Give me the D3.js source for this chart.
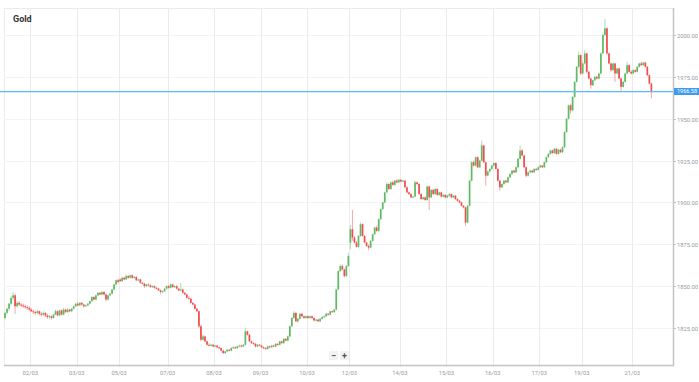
<!DOCTYPE html>
<html>
<head>
<meta charset="utf-8">
<script src="https://cdn.jsdelivr.net/npm/d3@7"></script>
<style>
  body { margin: 0; background: #fff; }
  svg { display: block; font-family: Roboto, "Open Sans", sans-serif; }
</style>
</head>
<body>
<svg id="chart" width="699" height="382"></svg>
<script>
// hourly candles, [open, high, low, close], grouped by trading day
const mar01 = [
  [1831,1834.5,1830,1834],[1834,1837,1833,1836.5],[1836.5,1840,1835,1839.5],[1839.5,1844,1838.5,1843],
  [1843,1846.5,1841.5,1844.5],[1844.5,1845.5,1833.5,1838],[1838,1841,1837,1840],[1840,1841,1838,1839],
  [1839,1840,1837.5,1838.5],[1838.5,1839.5,1837,1838],[1838,1839,1836.5,1837.5],[1837.5,1838.5,1836,1837],
  [1837,1838,1835,1836]
];
const mar02 = [
  [1836,1837,1834.5,1835],[1835,1836,1833.5,1834.5],[1834.5,1835.5,1833,1834],[1834,1836,1833,1835],
  [1835,1835.5,1832.5,1833.5],[1833.5,1834.5,1832,1833],[1833,1835,1832,1834],[1834,1834.5,1831.5,1832.5],
  [1832.5,1833.5,1830.5,1831.5],[1831.5,1833,1830.5,1832],[1832,1832.5,1830,1831],[1831,1833.5,1830.5,1833],
  [1833,1836,1832.5,1835],[1835,1835.5,1832,1832.5],[1832.5,1836,1832,1835.5],[1835.5,1836,1832.5,1833],
  [1833,1837,1832.5,1836],[1836,1836.5,1834,1834.5],[1834.5,1837,1834,1836],[1836,1836.5,1834.5,1835],
  [1835,1837,1834.5,1836.5],[1836.5,1838.5,1836,1838],[1838,1840,1837.5,1839.5]
];
const mar03 = [
  [1839.5,1840.5,1838,1838.5],[1838.5,1840.5,1838,1840],[1840,1840.5,1838.5,1839],[1839,1839.5,1837,1838],
  [1838,1839,1837.5,1838.5],[1838.5,1840,1838,1839.5],[1839.5,1841.5,1839,1841],[1841,1844,1840.5,1843.5],
  [1843.5,1844,1841.5,1842],[1842,1845,1841.5,1844.5],[1844.5,1846.5,1844,1846],[1846,1846.5,1844.5,1845],
  [1845,1847,1844.5,1846.5],[1846.5,1847,1844.5,1845],[1845,1845.5,1841,1842],[1842,1845,1841.5,1844.5],
  [1844.5,1846,1844,1845.5],[1845.5,1848.5,1845,1848],[1848,1851.5,1847.5,1851],[1851,1854,1850.5,1853.5],
  [1853.5,1854.5,1851.5,1852.5]
];
const mar05 = [
  [1854,1854.5,1852.5,1853]
];
const mar06 = [
  [1853,1855.5,1852.5,1855],[1855,1855.5,1853.5,1854],[1854,1857,1853.5,1856],[1856,1856.5,1854.5,1855],
  [1855,1857,1854.5,1856.5],[1856.5,1857,1854.5,1855],[1855,1856,1854.5,1855.5],[1855.5,1856,1853,1853.5],
  [1853.5,1854.5,1853,1854],[1854,1854.5,1851.5,1852],[1852,1852.5,1851,1851.5],[1851.5,1852,1849,1850],
  [1850,1851.5,1849.5,1851],[1851,1851.5,1850,1850.5],[1850.5,1851,1849,1849.5],[1849.5,1850.5,1849,1850],
  [1850,1850.5,1848.5,1849],[1849,1849.5,1848,1848.5],[1848.5,1849,1847,1847.5],[1847.5,1848,1845.5,1846.5],
  [1846.5,1847.5,1846,1847],[1847,1849,1846.5,1848.5],[1848.5,1850.5,1848,1850]
];
const mar07 = [
  [1850,1850.5,1848.5,1849],[1849,1851.5,1848.5,1851],[1851,1851.5,1849,1849.5],[1849.5,1850.5,1849,1850],
  [1850,1850.5,1848,1848.5],[1848.5,1849,1847,1847.5],[1847.5,1852,1847,1848],[1848,1848.5,1845.5,1846],
  [1846,1846.5,1844.5,1845],[1845,1845.5,1842.5,1843],[1843,1844,1842,1842.5],[1842.5,1843,1839.5,1840],
  [1840,1840.5,1838.5,1839],[1839,1839.5,1836,1836.5],[1836.5,1837,1834.5,1835],[1835,1835.5,1825,1826],
  [1826,1827,1817,1818],[1818,1821,1817.5,1820],[1820,1820.5,1816.5,1817],[1817,1817.5,1814.5,1815],
  [1815,1816,1814,1814.5],[1814.5,1815.5,1814,1815],[1815,1815.5,1813.5,1814]
];
const mar08 = [
  [1814,1815,1813.5,1814.5],[1814.5,1815,1813,1813.5],[1813.5,1814,1812.5,1813],[1813,1813.5,1811,1811.5],
  [1811.5,1812,1809.5,1810],[1810,1811.5,1809.5,1811],[1811,1812.5,1810.5,1812],[1812,1812.5,1811,1811.5],
  [1811.5,1813.5,1811,1813],[1813,1814,1812.5,1813.5],[1813.5,1814,1812.5,1813],[1813,1814.5,1812.5,1814],
  [1814,1815,1813.5,1814.5],[1814.5,1815,1813.5,1814],[1814,1815.5,1813.5,1815],[1815,1825,1814.5,1823],
  [1823,1823.5,1820.5,1821],[1821,1821.5,1816.5,1817],[1817,1817.5,1815.5,1816],[1816,1816.5,1815,1815.5],
  [1815.5,1816,1813.5,1814],[1814,1815.5,1813.5,1815],[1815,1815.5,1814,1814.5]
];
const mar09 = [
  [1814.5,1815,1813,1813.5],[1813.5,1814,1812.5,1813],[1813,1813.5,1812,1812.5],[1812.5,1814.5,1812,1814],
  [1814,1814.5,1813,1813.5],[1813.5,1815,1813,1814.5],[1814.5,1815,1813.5,1814],[1814,1816,1813.5,1815.5],
  [1815.5,1816,1814.5,1815],[1815,1817.5,1814.5,1817],[1817,1817.5,1815.5,1816],[1816,1819,1815.5,1818.5],
  [1818.5,1819,1817,1817.5],[1817.5,1820.5,1817,1820],[1820,1826.5,1819.5,1826],[1826,1831.5,1825.5,1831],
  [1831,1835,1830.5,1834],[1834,1834.5,1828.5,1829],[1829,1831,1828,1830.5],[1830.5,1834,1830,1833.5],
  [1833.5,1834,1831.5,1832],[1832,1832.5,1830.5,1831],[1831,1832.5,1830.5,1832]
];
const mar10 = [
  [1832,1832.5,1830.5,1831],[1831,1832.5,1830.5,1832],[1832,1832.5,1830.5,1831],[1831,1831.5,1829,1829.5],
  [1829.5,1830.5,1829,1830],[1830,1830.5,1828.5,1829],[1829,1831,1828.5,1830.5],[1830.5,1832,1830,1831.5],
  [1831.5,1832.5,1831,1832],[1832,1834,1831.5,1833.5],[1833.5,1834,1832.5,1833],[1833,1835.5,1832.5,1835],
  [1835,1835.5,1834,1834.5],[1834.5,1836.5,1834,1836],[1836,1848.5,1835.5,1848],[1848,1859.5,1847.5,1859],
  [1859,1863,1858.5,1862],[1862,1863,1859.5,1860],[1860,1860.5,1855,1856],[1856,1862.5,1855.5,1862],
  [1862,1870,1861.5,1868]
];
const mar12 = [
  [1876,1886.5,1872,1884],[1884,1895.5,1877,1879]
];
const mar13 = [
  [1879,1880,1875.5,1876],[1876,1877,1873,1873.5],[1873.5,1880.5,1873,1880],[1880,1888,1879.5,1887],
  [1887,1887.5,1879.5,1880],[1880,1880.5,1875.5,1876],[1876,1876.5,1873.5,1874],[1874,1875,1871.5,1873],
  [1873,1877.5,1872.5,1877],[1877,1881.5,1876.5,1881],[1881,1885.5,1880.5,1885],[1885,1886,1882.5,1883],
  [1883,1890.5,1882.5,1890],[1890,1896.5,1889.5,1896],[1896,1900.5,1895.5,1900],[1900,1906.5,1899.5,1906],
  [1906,1912,1905.5,1911],[1911,1911.5,1907.5,1908],[1908,1912.5,1907.5,1912],[1912,1913,1910,1910.5],
  [1910.5,1913.5,1910,1913],[1913,1914,1911.5,1912],[1912,1914,1911.5,1913.5]
];
const mar14 = [
  [1913.5,1914,1912,1912.5],[1912.5,1913.5,1912,1913],[1913,1913.5,1908.5,1909],[1909,1909.5,1905.5,1906],
  [1906,1906.5,1904.5,1905],[1905,1905.5,1902.5,1903],[1903,1904,1902.5,1903.5],[1903.5,1913,1903,1912],
  [1912,1912.5,1910.5,1911],[1911,1911.5,1904.5,1905],[1905,1905.5,1901.5,1902],[1902,1903.5,1901.5,1903],
  [1903,1903.5,1901,1901.5],[1901.5,1910,1901,1909.5],[1909.5,1910,1895.5,1903],[1903,1908,1902.5,1907.5],
  [1907.5,1908,1904.5,1905],[1905,1908.5,1904.5,1908],[1908,1908.5,1904,1904.5],[1904.5,1906.5,1904,1906],
  [1906,1906.5,1903,1903.5],[1903.5,1905,1903,1904.5],[1904.5,1905,1902.5,1903]
];
const mar15 = [
  [1903,1904.5,1902.5,1904],[1904,1905.5,1903.5,1905],[1905,1905.5,1902.5,1903],[1903,1904.5,1902.5,1904],
  [1904,1904.5,1901.5,1902],[1902,1902.5,1900.5,1901],[1901,1901.5,1899.5,1900],[1900,1900.5,1897.5,1898],
  [1898,1898.5,1896.5,1897],[1897,1897.5,1886,1888],[1888,1898.5,1887.5,1898],[1898,1913.5,1897.5,1913],
  [1913,1924.5,1912.5,1924],[1924,1925,1921.5,1922],[1922,1927.5,1921.5,1927],[1927,1927.5,1920.5,1921],
  [1921,1925.5,1920.5,1925],[1925,1937,1924.5,1934],[1934,1934.5,1923.5,1924],[1924,1924.5,1910,1916],
  [1916,1919,1915.5,1918.5],[1918.5,1920.5,1918,1920],[1920,1922.5,1919.5,1922]
];
const mar16 = [
  [1922,1924,1921.5,1923.5],[1923.5,1924,1919.5,1920],[1920,1920.5,1912.5,1913],[1913,1913.5,1907,1909],
  [1909,1911.5,1908.5,1911],[1911,1913.5,1910.5,1913],[1913,1913.5,1911.5,1912],[1912,1915.5,1911.5,1915],
  [1915,1917.5,1914.5,1917],[1917,1919.5,1916.5,1919],[1919,1919.5,1917.5,1918],[1918,1921.5,1917.5,1921],
  [1921,1926.5,1920.5,1926],[1926,1934,1925.5,1931],[1931,1932,1927.5,1928],[1928,1928.5,1920.5,1921],
  [1921,1921.5,1915,1916],[1916,1918.5,1915.5,1918],[1918,1919.5,1917.5,1919],[1919,1919.5,1917.5,1918],
  [1918,1920.5,1917.5,1920],[1920,1920.5,1919,1919.5],[1919.5,1921.5,1919,1921]
];
const mar17 = [
  [1921,1922.5,1920.5,1922],[1922,1922.5,1920.5,1921],[1921,1924.5,1920.5,1924],[1924,1927.5,1923.5,1927],
  [1927,1929.5,1926.5,1929],[1929,1931.5,1928.5,1931],[1931,1931.5,1929,1929.5],[1929.5,1932.5,1929,1932],
  [1932,1932.5,1928.5,1929],[1929,1932,1928.5,1931.5],[1931.5,1932,1929.5,1930],[1930,1933.5,1929.5,1933],
  [1933,1942.5,1932.5,1942],[1942,1950.5,1941.5,1950],[1950,1958.5,1949.5,1958],[1958,1959,1953,1955],
  [1955,1963.5,1954.5,1963],[1963,1972.5,1962.5,1972],[1972,1981.5,1971.5,1981],[1981,1990,1980,1988],
  [1988,1988.5,1976,1977]
];
const mar19 = [
  [1977,1983.5,1976.5,1983],[1983,1991,1982.5,1989]
];
const mar20 = [
  [1989,1989.5,1977,1978],[1978,1978.5,1973.5,1974],[1974,1974.5,1968,1970],[1970,1973.5,1969.5,1973],
  [1973,1975.5,1972.5,1975],[1975,1975.5,1973.5,1974],[1974,1977.5,1973.5,1977],[1977,1989.5,1976.5,1989],
  [1989,2000.5,1988.5,2000],[2000,2009.5,1999.5,2004],[2004,2004.5,1988,1989],[1989,1989.5,1982.5,1983],
  [1983,1983.5,1978,1979],[1979,1983.5,1978.5,1983],[1983,1983.5,1972,1977],[1977,1980.5,1976.5,1980],
  [1980,1980.5,1973.5,1974],[1974,1974.5,1966,1969],[1969,1972.5,1968.5,1972],[1972,1977.5,1971.5,1977],
  [1977,1984,1976.5,1982],[1982,1982.5,1977.5,1978],[1978,1979,1976.5,1977]
];
const mar21 = [
  [1977,1979.5,1976.5,1979],[1979,1979.5,1977.5,1978],[1978,1981.5,1977.5,1981],[1981,1983.5,1980.5,1983],
  [1983,1984,1981.5,1982],[1982,1984,1981.5,1983.5],[1983.5,1984,1980.5,1981],[1981,1981.5,1975.5,1976],
  [1976,1976.5,1970.5,1971],[1971,1971.5,1962,1966.58]
];

const dayLabels = ["01/03","02/03","03/03","05/03","06/03","07/03","08/03","09/03","10/03",
                   "12/03","13/03","14/03","15/03","16/03","17/03","19/03","20/03","21/03"];
const dayCandles = [mar01, mar02, mar03, mar05, mar06, mar07, mar08, mar09, mar10,
                    mar12, mar13, mar14, mar15, mar16, mar17, mar19, mar20, mar21];
const tickLabels = ["02/03","03/03","05/03","07/03","08/03","09/03","10/03",
                    "12/03","14/03","15/03","16/03","17/03","19/03","21/03"];
const priceTicks = [1825, 1850, 1875, 1900, 1925, 1950, 1975, 2000];
const lastPrice = 1966.58;
const title = "Gold";

function drawVis(svgId) {
  let svg = d3.select(svgId);

  let upColor = "#5fba63";
  let downColor = "#f04e4e";
  let gridColor = "#ebebeb";
  let axisColor = "#c4c4c4";
  let labelColor = "#9a9a9a";
  let blueColor = "#62bdf6";

  let left = 4, right = 673, top = 8, bottom = 365;

  // flatten the days into one candle list, remember where each day starts
  let candles = [];
  let dayStart = {};
  dayCandles.forEach((day, i) => {
    dayStart[dayLabels[i]] = candles.length;
    day.forEach(c => candles.push({o: c[0], h: c[1], l: c[2], c: c[3]}));
  });

  let x = d3.scaleLinear()
    .domain([0, candles.length + 10.2])
    .range([left, right]);

  let y = d3.scaleLinear()
    .domain([1825, 2000])
    .range([328, 35]);

  // frame
  svg.append("line")
    .attr("x1", left).attr("x2", right).attr("y1", top + 0.5).attr("y2", top + 0.5)
    .style("stroke", gridColor);
  svg.append("line")
    .attr("x1", left + 0.5).attr("x2", left + 0.5).attr("y1", top).attr("y2", bottom)
    .style("stroke", gridColor);

  // horizontal grid
  svg.append("g").selectAll("line")
    .data(priceTicks)
    .enter().append("line")
      .attr("x1", left).attr("x2", right)
      .attr("y1", d => Math.round(y(d)) + 0.5).attr("y2", d => Math.round(y(d)) + 0.5)
      .style("stroke", "#f3f3f3");

  // vertical grid at the labelled days
  svg.append("g").selectAll("line")
    .data(tickLabels)
    .enter().append("line")
      .attr("x1", d => Math.round(x(dayStart[d])) + 0.5)
      .attr("x2", d => Math.round(x(dayStart[d])) + 0.5)
      .attr("y1", top).attr("y2", bottom + 2)
      .style("stroke", gridColor);

  // candles
  let bodyW = 1.7;
  let g = svg.append("g").selectAll("g")
    .data(candles)
    .enter().append("g")
      .attr("transform", (d, i) => "translate(" + x(i + 0.5) + ",0)");
  g.append("line")
    .attr("y1", d => y(d.h)).attr("y2", d => y(d.l))
    .style("stroke", d => d.c >= d.o ? upColor : downColor)
    .style("stroke-width", 0.9)
    .style("opacity", 0.55);
  g.append("rect")
    .attr("x", -bodyW / 2)
    .attr("width", bodyW)
    .attr("y", d => y(Math.max(d.o, d.c)))
    .attr("height", d => Math.max(1, Math.abs(y(d.o) - y(d.c))))
    .style("fill", d => d.c >= d.o ? upColor : downColor);

  // axes lines
  svg.append("line")
    .attr("x1", left).attr("x2", right + 1).attr("y1", bottom + 0.5).attr("y2", bottom + 0.5)
    .style("stroke", axisColor).style("stroke-width", 1.5);
  svg.append("line")
    .attr("x1", right + 0.5).attr("x2", right + 0.5).attr("y1", top).attr("y2", bottom + 1)
    .style("stroke", axisColor).style("stroke-width", 1.5);

  // y labels
  let yl = svg.append("g").selectAll("g")
    .data(priceTicks)
    .enter().append("g")
      .attr("transform", d => "translate(" + right + "," + Math.round(y(d)) + ")");
  yl.append("line")
    .attr("x1", 1).attr("x2", 3).attr("y1", 0.5).attr("y2", 0.5)
    .style("stroke", axisColor);
  yl.append("text")
    .attr("x", 4).attr("y", 0.5)
    .attr("dy", "0.35em")
    .text(d => d3.format(".2f")(d))
    .style("font-size", "5.8px")
    .style("fill", labelColor);

  // x labels
  svg.append("g").selectAll("text")
    .data(tickLabels)
    .enter().append("text")
      .attr("x", d => x(dayStart[d]))
      .attr("y", 375)
      .attr("text-anchor", "middle")
      .text(d => d)
      .style("font-size", "5.8px")
      .style("fill", labelColor);

  // last price line (drawn as a thin band) + tag
  let py = y(lastPrice);
  svg.append("rect")
    .attr("x", 0).attr("y", Math.round(py))
    .attr("width", right).attr("height", 1.3)
    .style("fill", blueColor);
  svg.append("rect")
    .attr("x", right + 1).attr("y", Math.round(py) - 3).attr("width", 26).attr("height", 7)
    .style("fill", "#3d9cf0");
  svg.append("text")
    .attr("x", right + 4).attr("y", Math.round(py) + 0.5)
    .attr("dy", "0.35em")
    .text(d3.format(".2f")(lastPrice))
    .style("font-size", "5.5px")
    .style("fill", "#fff");

  // title
  svg.append("text")
    .attr("x", 13).attr("y", 22)
    .text(title)
    .style("font-size", "9px")
    .style("font-weight", "bold")
    .style("fill", "#333");

  // zoom buttons
  let zb = svg.append("g").selectAll("g")
    .data(["\u2212", "+"])
    .enter().append("g")
      .attr("transform", (d, i) => "translate(" + (329 + i * 11) + ",351)");
  zb.append("rect")
    .attr("width", 9).attr("height", 9)
    .style("fill", "#f2f2f2");
  zb.append("text")
    .attr("x", 4.5).attr("y", 7.5)
    .attr("text-anchor", "middle")
    .text(d => d)
    .style("font-size", "9px")
    .style("font-weight", "bold")
    .style("fill", "#555");
}

drawVis("#chart");
</script>
</body>
</html>
